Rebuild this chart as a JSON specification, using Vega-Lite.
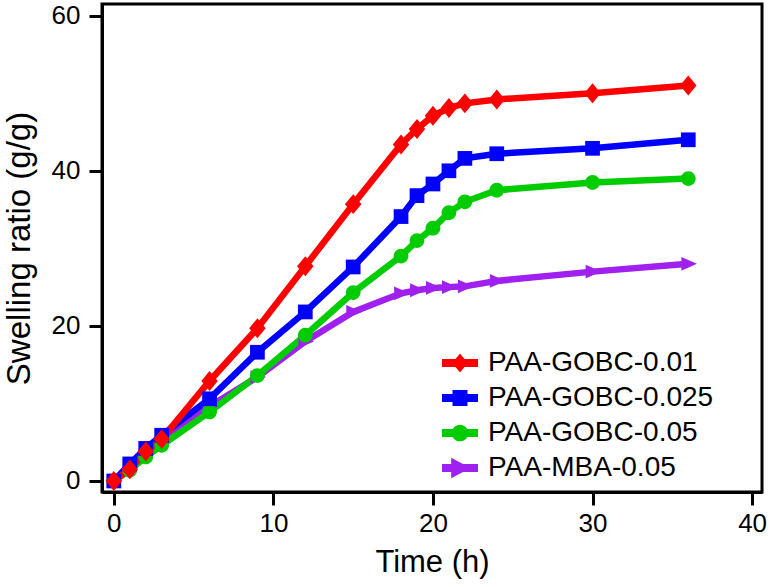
{
  "$schema": "https://vega.github.io/schema/vega-lite/v6.json",
  "width": 660,
  "height": 488,
  "autosize": {"type": "none"},
  "padding": {"left": 102, "top": 4, "right": 8, "bottom": 95},
  "background": "white",
  "config": {
    "view": {"stroke": "black", "strokeWidth": 3},
    "font": "Liberation Sans",
    "axis": {
      "grid": false,
      "domainColor": "black",
      "domainWidth": 3,
      "tickColor": "black",
      "tickWidth": 3,
      "tickSize": 13,
      "labelColor": "black",
      "labelFont": "Liberation Sans",
      "labelFontSize": 26,
      "titleColor": "black",
      "titleFont": "Liberation Sans",
      "titleFontSize": 31,
      "titleFontWeight": "normal"
    }
  },
  "data": {
    "values": [
      {"s": "PAA-MBA-0.05", "t": 0, "v": 0},
      {"s": "PAA-MBA-0.05", "t": 1, "v": 1.8},
      {"s": "PAA-MBA-0.05", "t": 2, "v": 3.5},
      {"s": "PAA-MBA-0.05", "t": 3, "v": 5.0},
      {"s": "PAA-MBA-0.05", "t": 6, "v": 9.6},
      {"s": "PAA-MBA-0.05", "t": 9, "v": 13.4},
      {"s": "PAA-MBA-0.05", "t": 12, "v": 18.0},
      {"s": "PAA-MBA-0.05", "t": 15, "v": 21.8},
      {"s": "PAA-MBA-0.05", "t": 18, "v": 24.2},
      {"s": "PAA-MBA-0.05", "t": 19, "v": 24.6},
      {"s": "PAA-MBA-0.05", "t": 20, "v": 24.9},
      {"s": "PAA-MBA-0.05", "t": 21, "v": 25.0},
      {"s": "PAA-MBA-0.05", "t": 22, "v": 25.1},
      {"s": "PAA-MBA-0.05", "t": 24, "v": 25.8},
      {"s": "PAA-MBA-0.05", "t": 30, "v": 27.0},
      {"s": "PAA-MBA-0.05", "t": 36, "v": 28.0},
      {"s": "PAA-GOBC-0.05", "t": 0, "v": 0},
      {"s": "PAA-GOBC-0.05", "t": 1, "v": 1.4},
      {"s": "PAA-GOBC-0.05", "t": 2, "v": 3.1},
      {"s": "PAA-GOBC-0.05", "t": 3, "v": 4.6},
      {"s": "PAA-GOBC-0.05", "t": 6, "v": 8.9},
      {"s": "PAA-GOBC-0.05", "t": 9, "v": 13.6},
      {"s": "PAA-GOBC-0.05", "t": 12, "v": 18.8},
      {"s": "PAA-GOBC-0.05", "t": 15, "v": 24.3},
      {"s": "PAA-GOBC-0.05", "t": 18, "v": 29.0},
      {"s": "PAA-GOBC-0.05", "t": 19, "v": 31.0},
      {"s": "PAA-GOBC-0.05", "t": 20, "v": 32.6},
      {"s": "PAA-GOBC-0.05", "t": 21, "v": 34.6},
      {"s": "PAA-GOBC-0.05", "t": 22, "v": 36.0},
      {"s": "PAA-GOBC-0.05", "t": 24, "v": 37.5},
      {"s": "PAA-GOBC-0.05", "t": 30, "v": 38.5},
      {"s": "PAA-GOBC-0.05", "t": 36, "v": 39.0},
      {"s": "PAA-GOBC-0.025", "t": 0, "v": 0},
      {"s": "PAA-GOBC-0.025", "t": 1, "v": 2.2},
      {"s": "PAA-GOBC-0.025", "t": 2, "v": 4.2},
      {"s": "PAA-GOBC-0.025", "t": 3, "v": 5.9},
      {"s": "PAA-GOBC-0.025", "t": 6, "v": 10.6},
      {"s": "PAA-GOBC-0.025", "t": 9, "v": 16.6},
      {"s": "PAA-GOBC-0.025", "t": 12, "v": 21.8},
      {"s": "PAA-GOBC-0.025", "t": 15, "v": 27.6},
      {"s": "PAA-GOBC-0.025", "t": 18, "v": 34.1},
      {"s": "PAA-GOBC-0.025", "t": 19, "v": 36.8},
      {"s": "PAA-GOBC-0.025", "t": 20, "v": 38.3},
      {"s": "PAA-GOBC-0.025", "t": 21, "v": 40.0},
      {"s": "PAA-GOBC-0.025", "t": 22, "v": 41.6},
      {"s": "PAA-GOBC-0.025", "t": 24, "v": 42.2},
      {"s": "PAA-GOBC-0.025", "t": 30, "v": 42.9},
      {"s": "PAA-GOBC-0.025", "t": 36, "v": 44.0},
      {"s": "PAA-GOBC-0.01", "t": 0, "v": 0},
      {"s": "PAA-GOBC-0.01", "t": 1, "v": 1.5},
      {"s": "PAA-GOBC-0.01", "t": 2, "v": 3.8},
      {"s": "PAA-GOBC-0.01", "t": 3, "v": 5.4},
      {"s": "PAA-GOBC-0.01", "t": 6, "v": 12.9},
      {"s": "PAA-GOBC-0.01", "t": 9, "v": 19.7},
      {"s": "PAA-GOBC-0.01", "t": 12, "v": 27.7},
      {"s": "PAA-GOBC-0.01", "t": 15, "v": 35.7},
      {"s": "PAA-GOBC-0.01", "t": 18, "v": 43.4},
      {"s": "PAA-GOBC-0.01", "t": 19, "v": 45.4},
      {"s": "PAA-GOBC-0.01", "t": 20, "v": 47.1},
      {"s": "PAA-GOBC-0.01", "t": 21, "v": 48.1},
      {"s": "PAA-GOBC-0.01", "t": 22, "v": 48.7},
      {"s": "PAA-GOBC-0.01", "t": 24, "v": 49.2},
      {"s": "PAA-GOBC-0.01", "t": 30, "v": 50.0},
      {"s": "PAA-GOBC-0.01", "t": 36, "v": 51.0}
    ]
  },
  "encoding": {
    "x": {
      "field": "t",
      "type": "quantitative",
      "scale": {"domain": [-0.74, 40.62], "nice": false, "zero": false},
      "axis": {"values": [0, 10, 20, 30, 40], "title": "Time (h)", "labelPadding": 5, "titlePadding": 11}
    },
    "y": {
      "field": "v",
      "type": "quantitative",
      "scale": {"domain": [-1.42, 61.51], "nice": false, "zero": false},
      "axis": {"values": [0, 20, 40, 60], "title": "Swelling ratio (g/g)", "titleFontSize": 33, "labelPadding": 9, "titlePadding": 15}
    },
    "color": {
      "field": "s",
      "type": "nominal",
      "scale": {
        "domain": ["PAA-GOBC-0.01", "PAA-GOBC-0.025", "PAA-GOBC-0.05", "PAA-MBA-0.05"],
        "range": ["#ff0000", "#0000ff", "#00cc00", "#a020f0"]
      },
      "legend": {
        "title": null,
        "orient": "none",
        "legendX": 341,
        "legendY": 342,
        "padding": 0,
        "symbolSize": 1156,
        "symbolStrokeWidth": 0,
        "rowPadding": 4,
        "labelFont": "Liberation Sans",
        "labelFontSize": 28,
        "labelColor": "black",
        "labelLimit": 0,
        "labelOffset": 11,
        "encode": {
          "symbols": {
            "update": {
              "shape": {"signal": "datum.value === 'PAA-GOBC-0.01' ? 'M-1.06,-0.23H1.06V0.23H-1.06Z M0,-0.56L0.46,0L0,0.56L-0.46,0Z' : datum.value === 'PAA-GOBC-0.025' ? 'M-1.06,-0.23H1.06V0.23H-1.06Z M-0.44,-0.47H0.44V0.47H-0.44Z' : datum.value === 'PAA-GOBC-0.05' ? 'M-1.06,-0.23H1.06V0.23H-1.06Z M-0.49,0A0.49,0.49,0,1,1,0.49,0A0.49,0.49,0,1,1,-0.49,0Z' : 'M-1.06,-0.23H1.06V0.23H-1.06Z M-0.52,-0.6L0.62,0L-0.52,0.6Z'"},
              "fill": {"scale": "color", "field": "value"},
              "strokeWidth": {"value": 0},
              "opacity": {"value": 1}
            }
          }
        }
      }
    }
  },
  "layer": [
    {
      "mark": {"type": "line", "strokeWidth": 6.5}
    },
    {
      "transform": [{"filter": "datum.s === 'PAA-MBA-0.05'"}],
      "mark": {"type": "point", "filled": true, "opacity": 1, "strokeWidth": 0, "size": 300, "shape": "M-0.8,-0.8L1,0L-0.8,0.8Z"}
    },
    {
      "transform": [{"filter": "datum.s === 'PAA-GOBC-0.05'"}],
      "mark": {"type": "point", "filled": true, "opacity": 1, "strokeWidth": 0, "size": 300, "shape": "M-0.85,0A0.85,0.85,0,1,1,0.85,0A0.85,0.85,0,1,1,-0.85,0Z"}
    },
    {
      "transform": [{"filter": "datum.s === 'PAA-GOBC-0.025'"}],
      "mark": {"type": "point", "filled": true, "opacity": 1, "strokeWidth": 0, "size": 300, "shape": "M-0.85,-0.85H0.85V0.85H-0.85Z"}
    },
    {
      "transform": [{"filter": "datum.s === 'PAA-GOBC-0.01'"}],
      "mark": {"type": "point", "filled": true, "opacity": 1, "strokeWidth": 0, "size": 300, "shape": "M0,-1.15L0.95,0L0,1.15L-0.95,0Z"}
    }
  ]
}
